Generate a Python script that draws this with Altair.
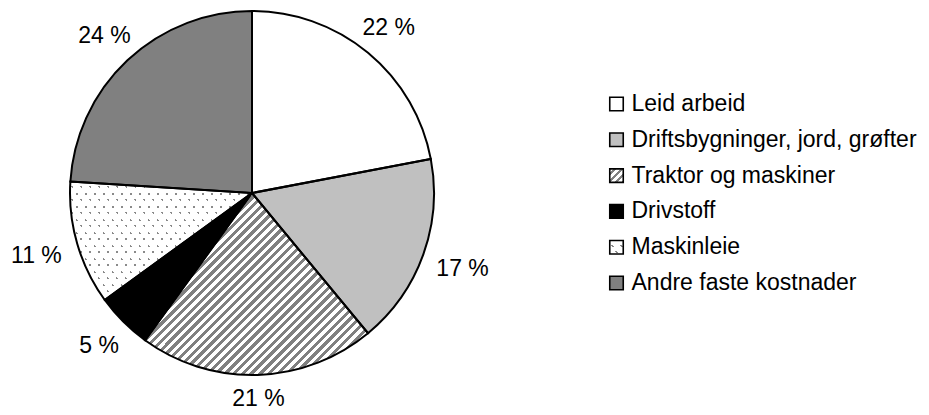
import math
import altair as alt
import pandas as pd

categories = ["Leid arbeid", "Driftsbygninger, jord, grøfter", "Traktor og maskiner",
              "Drivstoff", "Maskinleie", "Andre faste kostnader"]
shares = [22, 17, 21, 5, 11, 24]
fills = ["#ffffff", "#c0c0c0", "#ffffff", "#000000", "#ffffff", "#808080"]

df = pd.DataFrame({"cat": categories, "share": shares, "idx": list(range(len(categories)))})

FONT = "Liberation Sans"
R = 182
CX, CY = 244, 185
LAB_A, LAB_B = 226, 206


def stripe_gradient(w, h, nx, ny, period, on_frac, on_color, off_color):
    """Linear gradient (objectBoundingBox units) that draws stripes of a given
    pixel period, stripes running perpendicular to the pixel direction (nx, ny)."""
    L = math.hypot(nx, ny)
    nx, ny = nx / L, ny / L
    mx, my = nx * w, ny * h
    corners = [0, mx, my, mx + my]
    lo, hi = min(corners), max(corners)
    mm = mx * mx + my * my
    x1, y1 = lo * mx / mm, lo * my / mm
    x2, y2 = hi * mx / mm, hi * my / mm
    p = period / (hi - lo)
    stops = []
    k = 0
    while k * p < 1:
        a = k * p
        m = min(1.0, a + (1 - on_frac) * p)
        b = min(1.0, (k + 1) * p)
        stops += [alt.GradientStop(offset=round(a, 5), color=off_color),
                  alt.GradientStop(offset=round(m, 5), color=off_color),
                  alt.GradientStop(offset=round(m, 5), color=on_color),
                  alt.GradientStop(offset=round(b, 5), color=on_color)]
        k += 1
    return alt.Gradient(gradient="linear", x1=round(x1, 5), y1=round(y1, 5),
                        x2=round(x2, 5), y2=round(y2, 5), stops=stops)


clear = "rgba(255,255,255,0)"
GRAY = "#808080"
DOT = "#8a8a8a"

# hatch "/" stripes
hatch_pie = stripe_gradient(223, 182, 1, 1, 6.2, 0.5, GRAY, "#ffffff")
hatch_sq = stripe_gradient(13.5, 13.5, 1, 1, 5.0, 0.5, GRAY, "#ffffff")
# staggered dot lattice = slanted columns AND horizontal rows
DX, DY = 9.0, 6.5
col_period = DX * DY / math.hypot(DX / 2, DY)
dots_cols_pie = stripe_gradient(182, 118, DY, -DX / 2, col_period, 0.2, clear, "#ffffff")
dots_rows_pie = stripe_gradient(182, 118, 0, 1, DY, 0.3, clear, "#ffffff")
dots_cols_sq = stripe_gradient(13.5, 13.5, DY, -DX / 2, col_period, 0.2, clear, "#ffffff")
dots_rows_sq = stripe_gradient(13.5, 13.5, 0, 1, DY, 0.3, clear, "#ffffff")

theta_scale = alt.Scale(domain=[0, 100])
fill_scale = alt.Scale(domain=categories, range=fills)

base = alt.Chart(df).transform_stack(
    stack="share", as_=["v0", "v1"], groupby=[],
    sort=[alt.SortField("idx", order="ascending")]
).transform_calculate(
    mid="(datum.v0 + datum.v1) / 2",
    label="datum.share + ' %'"
).transform_calculate(
    lr=f"sqrt(pow({LAB_A} * sin(datum.mid / 100 * 2 * PI), 2) + pow({LAB_B} * cos(datum.mid / 100 * 2 * PI), 2))"
)

pos = dict(x=alt.value(CX), y=alt.value(CY),
           theta=alt.Theta("v0:Q", scale=theta_scale), theta2="v1:Q")

slices = base.mark_arc(radius=R).encode(
    fill=alt.Fill("cat:N", scale=fill_scale, legend=None), **pos)

trak = base.transform_filter(alt.datum.cat == "Traktor og maskiner")
mask = base.transform_filter(alt.datum.cat == "Maskinleie")
hatch = trak.mark_arc(radius=R, fill=hatch_pie).encode(**pos)
dot_base = mask.mark_arc(radius=R, fill=DOT).encode(**pos)
dot_c = mask.mark_arc(radius=R, fill=dots_cols_pie).encode(**pos)
dot_r = mask.mark_arc(radius=R, fill=dots_rows_pie).encode(**pos)

outline = base.mark_arc(radius=R, fillOpacity=0, stroke="#000000", strokeWidth=2).encode(**pos)

labels = base.mark_text(font=FONT, fontSize=23, color="#000000").encode(
    x=alt.value(CX), y=alt.value(CY),
    theta=alt.Theta("mid:Q", scale=theta_scale),
    radius=alt.Radius("lr:Q", scale=alt.Scale(domain=[0, 400], range=[0, 400])),
    text="label:N")

ypos = alt.Y("cat:N", scale=alt.Scale(domain=categories, range=[96, 275], padding=0), axis=None)
LX = 608.5
SQ = 182

leg = alt.Chart(df)
leg_sq = leg.mark_square(size=SQ, opacity=1).encode(
    x=alt.value(LX), y=ypos, fill=alt.Fill("cat:N", scale=fill_scale, legend=None))
leg_t = leg.transform_filter(alt.datum.cat == "Traktor og maskiner")
leg_m = leg.transform_filter(alt.datum.cat == "Maskinleie")
leg_hatch = leg_t.mark_square(size=SQ, opacity=1, fill=hatch_sq).encode(x=alt.value(LX), y=ypos)
leg_dot0 = leg_m.mark_square(size=SQ, opacity=1, fill=DOT).encode(x=alt.value(LX), y=ypos)
leg_dot1 = leg_m.mark_square(size=SQ, opacity=1, fill=dots_cols_sq).encode(x=alt.value(LX), y=ypos)
leg_dot2 = leg_m.mark_square(size=SQ, opacity=1, fill=dots_rows_sq).encode(x=alt.value(LX), y=ypos)
leg_outline = leg.mark_square(size=SQ, fillOpacity=0, stroke="#000000", strokeWidth=1.6).encode(
    x=alt.value(LX), y=ypos)
leg_text = leg.mark_text(align="left", baseline="middle", font=FONT, fontSize=23,
                         color="#000000").encode(
    x=alt.value(623.5), y=ypos, text="cat:N")

chart = alt.layer(slices, hatch, dot_base, dot_c, dot_r, outline, labels,
                  leg_sq, leg_hatch, leg_dot0, leg_dot1, leg_dot2, leg_outline, leg_text).properties(
    width=913, height=399, padding=0, autosize=alt.AutoSizeParams(type="none")
).configure_view(strokeWidth=0)

chart.save("out.html", embed_options={"renderer": "svg", "actions": False})
